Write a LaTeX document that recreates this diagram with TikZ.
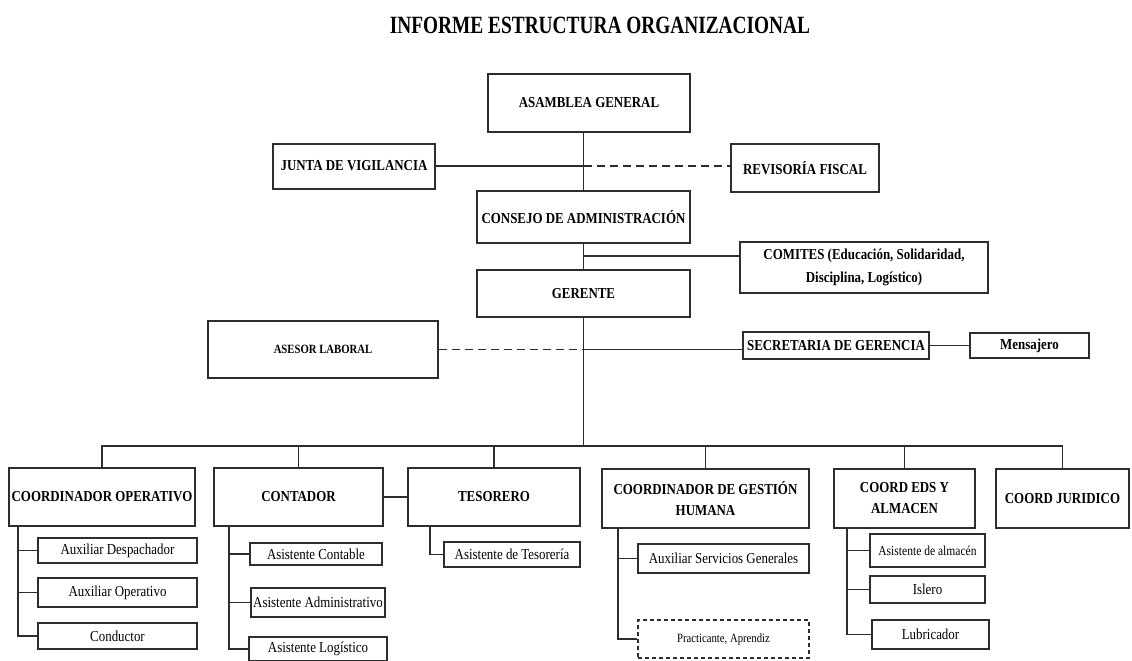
\documentclass[tikz,border=0pt]{standalone}
\usepackage{fontspec}
\setmainfont{Liberation Serif}[FakeStretch=0.85]
\newfontfamily\titfont{Liberation Serif}[FakeStretch=0.78]
\usepackage{tikz}
\usetikzlibrary{positioning}
\definecolor{linea}{RGB}{45,45,45}

\begin{document}
\begin{tikzpicture}[x=0.5pt,y=-0.5pt,
  blk/.style={draw=linea,line width=1pt,inner sep=1pt,align=center,font=\fontsize{7.6}{10.5}\selectfont\bfseries},
  sub/.style={blk,font=\fontsize{7.6}{9}\selectfont},
  sz/.style 2 args={minimum width=#1*0.5pt,minimum height=#2*0.5pt},
  ln/.style={draw=linea,line width=0.9pt},
  dsh/.style={ln,dash pattern=on 4pt off 2.5pt}]
  \useasboundingbox (0,0) rectangle (1132,660);
  \node[font=\titfont\fontsize{12.4}{14}\selectfont\bfseries] (tit) at (600,25) {INFORME ESTRUCTURA ORGANIZACIONAL};
  \node[blk,sz={202}{58}] (asam) at (589,103) {ASAMBLEA GENERAL};
  \node[blk,sz={162}{45}] (junta) at (354,166) {JUNTA DE VIGILANCIA};
  \node[blk,sz={148}{48}] (revi) at (805,168) {REVISORÍA FISCAL};
  \node[blk,sz={213}{52}] (cons) at (583.5,217) {CONSEJO DE ADMINISTRACIÓN};
  \node[blk,sz={248}{51},font=\fontsize{7.6}{11.5}\selectfont\bfseries] (comi) at (864,267.5) {COMITES (Educación, Solidaridad,\\Disciplina, Logístico)};
  \node[blk,sz={213}{47}] (ger) at (583.5,293.5) {GERENTE};
  \node[blk,sz={230}{57},font=\fontsize{6.3}{8}\selectfont\bfseries] (ases) at (323,349.5) {ASESOR LABORAL};
  \node[blk,sz={186}{27}] (secr) at (836,345.5) {SECRETARIA DE GERENCIA};
  \node[blk,sz={119}{25}] (mens) at (1029.5,345.5) {Mensajero};
  \node[blk,sz={186}{58}] (cop) at (102,497) {COORDINADOR OPERATIVO};
  \node[blk,sz={169}{58}] (cont) at (298.5,497) {CONTADOR};
  \node[blk,sz={172}{58}] (teso) at (494,497) {TESORERO};
  \node[blk,sz={207}{59}] (cgh) at (705.5,498.5) {COORDINADOR DE GESTIÓN\\HUMANA};
  \node[blk,sz={141}{59}] (eds) at (904.5,498.5) {COORD EDS Y\\ALMACEN};
  \node[blk,sz={133}{59}] (juri) at (1062.5,498.5) {COORD JURIDICO};
  \node[sub,sz={159}{25}] (aux1) at (117.5,550.5) {Auxiliar Despachador};
  \node[sub,sz={159}{29}] (aux2) at (117.5,592.5) {Auxiliar Operativo};
  \node[sub,sz={159}{26}] (cond) at (117.5,636) {Conductor};
  \node[sub,sz={132}{22}] (acon) at (316,554) {Asistente Contable};
  \node[sub,sz={134}{29}] (aadm) at (318,602.5) {Asistente Administrativo};
  \node[sub,sz={138}{24}] (alog) at (318,649) {Asistente Logístico};
  \node[sub,sz={136}{25}] (ates) at (512,554.5) {Asistente de Tesorería};
  \node[sub,sz={171}{29}] (asg) at (723.5,558.5) {Auxiliar Servicios Generales};
  \node[sub,sz={171}{38},dash pattern=on 2pt off 1.5pt,font=\fontsize{6.3}{8}\selectfont] (prac) at (723.5,639) {Practicante, Aprendiz};
  \node[sub,sz={115}{33},font=\fontsize{6.8}{8}\selectfont] (aalm) at (927.5,550.5) {Asistente de almacén};
  \node[sub,sz={115}{27}] (isl) at (927.5,589.5) {Islero};
  \node[sub,sz={117}{29}] (lub) at (930.5,634.5) {Lubricador};
  \coordinate (j1) at (cons.north |- junta.east);
  \coordinate (c1) at (583.5,256);
  \coordinate (a1) at (ger.south |- ases.east);
  \coordinate (bus) at (583.5,446);
  \draw[ln] (cons.north |- asam.south) -- (cons.north);
  \draw[ln] (junta.east) -- (j1); \draw[dsh] (j1) -- (j1 -| revi.west);
  \draw[ln] (cons.south) -- (ger.north); \draw[ln] (c1) -- (c1 -| comi.west);
  \draw[ln] (ger.south) -- (bus);
  \draw[dsh] (ases.east) -- (a1); \draw[ln] (a1) -- (a1 -| secr.west);
  \draw[ln] (secr.east) -- (mens.west);
  \draw[ln] (cop.north) |- (bus) -| (juri.north);
  \foreach \n in {cont,teso,cgh,eds} \draw[ln] (\n.north) -- (\n.north |- bus);
  \draw[ln] (cont.east) -- (teso.west);
  \foreach \c in {aux1,aux2,cond} \draw[ln] (\c.west) -| ([xshift=5pt]cop.south west);
  \foreach \c in {acon,aadm,alog} \draw[ln] (\c.west) -| ([xshift=8pt]cont.south west);
  \draw[ln] (ates.west) -| ([xshift=11.5pt]teso.south west);
  \foreach \c in {asg,prac} \draw[ln] (\c.west) -| ([xshift=8.5pt]cgh.south west);
  \foreach \c in {aalm,isl,lub} \draw[ln] (\c.west) -| ([xshift=7pt]eds.south west);
\end{tikzpicture}
\end{document}
